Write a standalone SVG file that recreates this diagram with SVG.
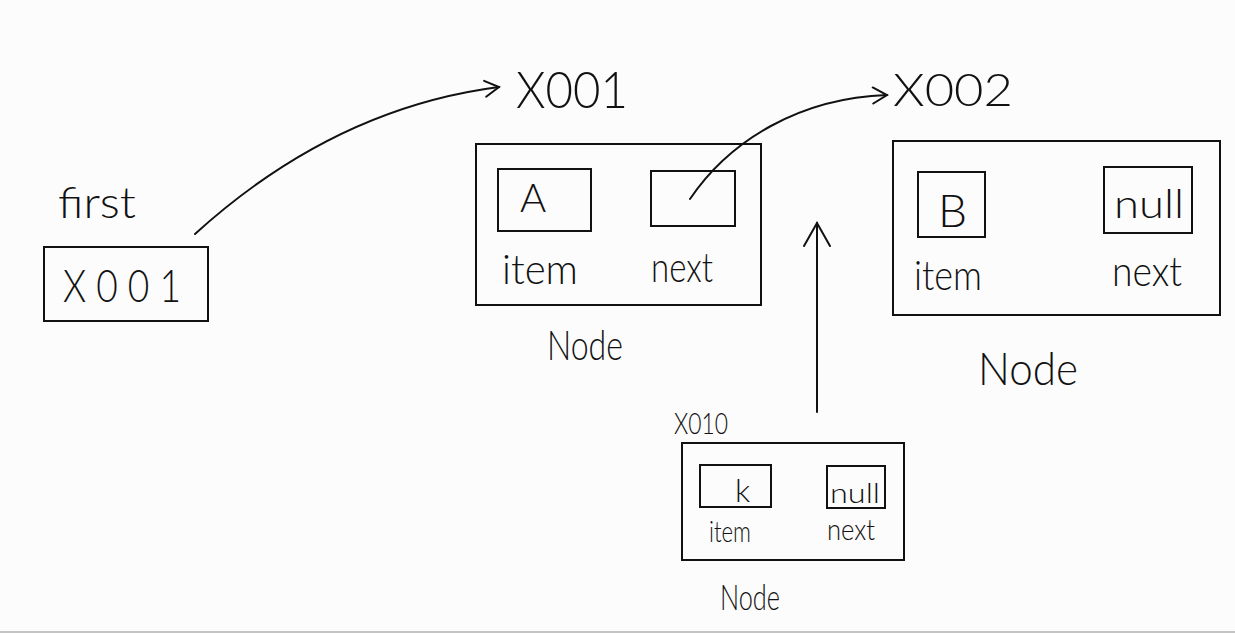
<svg xmlns="http://www.w3.org/2000/svg" width="1235" height="633" viewBox="0 0 1235 633">
<style>
.bx{fill:none;stroke:#111;stroke-width:2}
.t{font-family:Lato,"Liberation Sans",sans-serif;font-weight:300;fill:#111}
.c{fill:none;stroke:#111;stroke-width:2;stroke-linecap:round}
</style>
<defs>
<marker id="ah" viewBox="0 0 20 20" refX="18" refY="10" markerWidth="20" markerHeight="20" markerUnits="userSpaceOnUse" orient="auto">
<path d="M4 2 L18 10 L4 18" fill="none" stroke="#111" stroke-width="2" stroke-linecap="round"/>
</marker>
<marker id="ahL" viewBox="0 0 30 30" refX="28" refY="15" markerWidth="30" markerHeight="30" markerUnits="userSpaceOnUse" orient="auto">
<path d="M5 2 L28 15 L5 28" fill="none" stroke="#111" stroke-width="2" stroke-linecap="round"/>
</marker>
</defs>
<rect width="1235" height="633" fill="#fcfcfc"/>
<line x1="0" y1="632" x2="1235" y2="632" stroke="#c4c4c4" stroke-width="2"/>

<g id="first">
<text class="t" x="58" y="218" font-size="44" textLength="78" lengthAdjust="spacingAndGlyphs">first</text>
<rect class="bx" x="44" y="247" width="164" height="74"/>
<text class="t" x="63" y="302" font-size="46" textLength="118" lengthAdjust="spacingAndGlyphs">X 0 0 1</text>
</g>

<g id="node1">
<text class="t" x="516" y="108" font-size="52" textLength="112" lengthAdjust="spacingAndGlyphs">X001</text>
<rect class="bx" x="476" y="144" width="285" height="161"/>
<rect class="bx" x="498" y="169" width="93" height="62"/>
<text class="t" x="520" y="212" font-size="40">A</text>
<rect class="bx" x="651" y="171" width="84" height="55"/>
<text class="t" x="502" y="284" font-size="42" textLength="76" lengthAdjust="spacingAndGlyphs">item</text>
<text class="t" x="651" y="282" font-size="42" textLength="62" lengthAdjust="spacingAndGlyphs">next</text>
<text class="t" x="547" y="360" font-size="42" textLength="76" lengthAdjust="spacingAndGlyphs">Node</text>
</g>

<g id="node2">
<text class="t" x="893" y="106" font-size="46" textLength="120" lengthAdjust="spacingAndGlyphs">X002</text>
<rect class="bx" x="893" y="141" width="327" height="174"/>
<rect class="bx" x="918" y="172" width="67" height="65"/>
<text class="t" x="938" y="227" font-size="46">B</text>
<rect class="bx" x="1104" y="167" width="88" height="66"/>
<text class="t" x="1114" y="218" font-size="40" textLength="70" lengthAdjust="spacingAndGlyphs">null</text>
<text class="t" x="914" y="290" font-size="42" textLength="68" lengthAdjust="spacingAndGlyphs">item</text>
<text class="t" x="1112" y="286" font-size="42" textLength="70" lengthAdjust="spacingAndGlyphs">next</text>
<text class="t" x="978" y="385" font-size="46" textLength="100" lengthAdjust="spacingAndGlyphs">Node</text>
</g>

<g id="node3">
<text class="t" x="674" y="434" font-size="30" textLength="54" lengthAdjust="spacingAndGlyphs">X010</text>
<rect class="bx" x="682" y="443" width="222" height="117"/>
<rect class="bx" x="700" y="465" width="71" height="42"/>
<text class="t" x="735" y="502" font-size="32">k</text>
<rect class="bx" x="827" y="466" width="58" height="42"/>
<text class="t" x="830" y="503" font-size="28" textLength="50" lengthAdjust="spacingAndGlyphs">null</text>
<text class="t" x="709" y="542" font-size="30" textLength="42" lengthAdjust="spacingAndGlyphs">item</text>
<text class="t" x="827" y="540" font-size="30" textLength="48" lengthAdjust="spacingAndGlyphs">next</text>
<text class="t" x="720" y="610" font-size="36" textLength="60" lengthAdjust="spacingAndGlyphs">Node</text>
</g>

<g id="connectors">
<path class="c" d="M195 234 C260 175 360 105 499 87" marker-end="url(#ah)"/>
<path class="c" d="M690 199 C730 140 800 98 887 95" marker-end="url(#ah)"/>
<path class="c" d="M817 412 L817 223" marker-end="url(#ahL)"/>
</g>
</svg>
